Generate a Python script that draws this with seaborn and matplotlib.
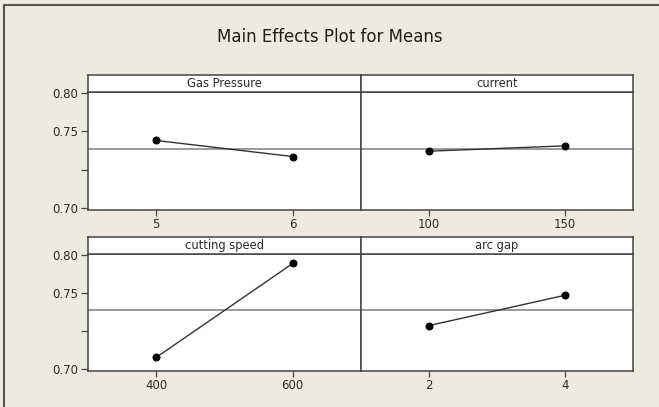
import matplotlib
matplotlib.use("Agg")
import matplotlib.pyplot as plt
from matplotlib.lines import Line2D
import seaborn as sns
import pandas as pd

# factor names and their two levels, with the mean response
factors = ["Gas Pressure", "current", "cutting speed", "arc gap"]
levels = [[5, 6], [100, 150], [400, 600], [2, 4]]
means = [[0.738, 0.717], [0.724, 0.731], [0.665, 0.789], [0.707, 0.747]]

y_ticks = [0.80, 0.75, 0.70, 0.65]
y_tick_labels = ["0.80", "0.75", "", "0.70"]

grand_mean = sum(sum(m) for m in means) / (2 * len(means))

sns.set_theme(style="white")
plt.rcParams["font.family"] = ["DejaVu Sans"]

bg = "#efeadf"
edge = "#444444"
txt = "#2b2b2b"

fig = plt.figure(figsize=(6.59, 4.07), dpi=100)
fig.patch.set_facecolor(bg)

W, H = 659.0, 407.0


def box(x0, y0, x1, y1):
    # pixel box (top-left origin) -> figure fraction rect
    return [x0 / W, 1 - y1 / H, (x1 - x0) / W, (y1 - y0) / H]


# rows: (strip top, strip bottom / data top, data bottom)
rows = [(75, 92, 210), (237, 254, 371)]
cols = [(88, 361), (361, 633)]

for i, name in enumerate(factors):
    r, c = divmod(i, 2)
    st, dt, db = rows[r]
    x0, x1 = cols[c]

    ax = fig.add_axes(box(x0, dt, x1, db))
    df = pd.DataFrame({"level": levels[i], "mean": means[i]})
    ax.axhline(grand_mean, color="#7f7f7f", lw=1.1, zorder=1)
    sns.lineplot(data=df, x="level", y="mean", ax=ax, color="#333333",
                 lw=1.0, marker="o", markersize=5, markerfacecolor="black",
                 markeredgecolor="black", zorder=3)

    lo, hi = levels[i]
    pad = (hi - lo) / 2
    ax.set_xlim(lo - pad, hi + pad)
    ax.set_ylim(0.647, 0.8015)
    ax.set_xticks(levels[i])
    ax.set_xticklabels([str(v) for v in levels[i]])
    ax.set_xlabel("")
    ax.set_ylabel("")
    ax.set_facecolor("white")
    for s in ax.spines.values():
        s.set_color(edge)
        s.set_linewidth(1.1)
    ax.tick_params(axis="x", direction="out", length=4, width=0.9, color=edge,
                   labelsize=8.5, labelcolor=txt, pad=2, bottom=True)
    if c == 0:
        ax.set_yticks(y_ticks)
        ax.set_yticklabels(y_tick_labels)
        ax.tick_params(axis="y", direction="out", length=5, width=0.9, color=edge,
                       labelsize=8.5, labelcolor=txt, pad=2, left=True)
    else:
        ax.set_yticks([])

    # strip header above each panel
    sax = fig.add_axes(box(x0, st, x1, dt))
    sax.set_facecolor("white")
    sax.set_xticks([])
    sax.set_yticks([])
    for s in sax.spines.values():
        s.set_color(edge)
        s.set_linewidth(1.1)
    sax.text(0.5, 0.5, name, ha="center", va="center", fontsize=8.3,
             color=txt, transform=sax.transAxes)

fig.text(0.5, 1 - 37 / H, "Main Effects Plot for Means", ha="center",
         va="center", fontsize=12, color="#1e1e1e")

# outer frame: top and left edges only
fig.add_artist(Line2D([4 / W, 1], [1 - 5 / H, 1 - 5 / H], color="#555555",
                      lw=1.5, transform=fig.transFigure))
fig.add_artist(Line2D([4 / W, 4 / W], [0, 1 - 5 / H], color="#555555",
                      lw=1.5, transform=fig.transFigure))

fig.savefig("out.png", dpi=100, facecolor=bg)
